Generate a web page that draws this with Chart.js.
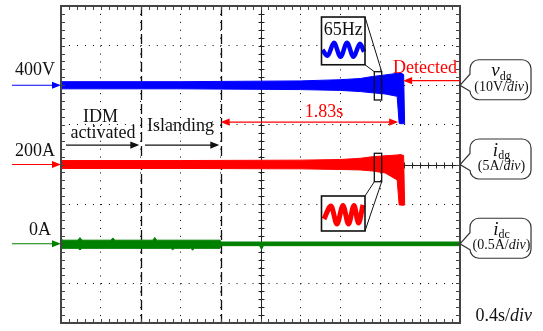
<!DOCTYPE html>
<html><head><meta charset="utf-8">
<script src="https://cdn.jsdelivr.net/npm/chart.js@4/dist/chart.umd.min.js"></script>
<style>html,body{margin:0;padding:0;background:#fff;}#wrap{width:543px;height:331px;}</style>
</head><body><div id="wrap"><canvas id="c" width="543" height="331"></canvas></div>
<script>
// ---------------- data ----------------
// time axis: 0.4 s/div, 10 divisions
const timeRange = [0, 4];
const timeStep = 0.4;
const eventTimes = [0.8, 1.6];          // IDM activated, islanding
const detectTime = 3.43;                 // detection (1.83 s after islanding)

// v_dg envelope (V), 10 V/div, 400 V marker
const vdgTime = [0, 1.2, 2.4, 2.8, 3.0, 3.12, 3.25, 3.37, 3.39, 3.40, 3.435, 3.445];
const vdgMax  = [400.9, 400.9, 401.1, 401.4, 401.7, 402.2, 402.6, 403.0, 403.1, 403.2, 402.7, 390.3];
const vdgMin  = [399.1, 399.1, 398.9, 398.7, 398.4, 398.1, 397.8, 397.2, 390.4, 390.3, 390.3, 390.3];

// i_dg envelope (A), 5 A/div, 200 A marker
const idgTime = [0, 1.2, 2.4, 2.8, 3.0, 3.12, 3.25, 3.37, 3.39, 3.40, 3.435, 3.445];
const idgMax  = [200.5, 200.5, 200.55, 200.63, 200.78, 200.98, 201.1, 201.2, 201.24, 201.26, 201.14, 194.9];
const idgMin  = [199.5, 199.5, 199.45, 199.37, 199.31, 199.18, 198.93, 198.05, 194.9, 194.88, 194.85, 194.9];

// i_dc envelope (A), 0.5 A/div, 0 A marker
const idcMaxTime = [0, 0.02, 0.17, 0.19, 0.21, 0.50, 0.52, 0.54, 0.92, 0.94, 0.96, 1.595, 1.605, 4.0];
const idcMax     = [0.06, 0.045, 0.045, 0.078, 0.045, 0.045, 0.074, 0.045, 0.045, 0.08, 0.045, 0.045, 0.022, 0.022];
const idcMinTime = [0, 0.17, 0.19, 0.21, 1.10, 1.12, 1.14, 1.30, 1.32, 1.34, 1.595, 1.605, 1.99, 2.01, 2.03, 4.0];
const idcMin     = [-0.058, -0.058, -0.078, -0.058, -0.058, -0.076, -0.058, -0.058, -0.08, -0.058, -0.058, -0.024, -0.024, -0.072, -0.024, -0.024];

// zoomed insets (normalised position across inset, normalised amplitude)
const vdgZoomPos = [0.023, 0.138, 0.287, 0.437, 0.586, 0.736, 0.885, 0.977];
const vdgZoom    = [0, -0.86, 1.0, -1.0, 1.0, -1.0, 0.86, -0.29];
const idgZoomPos = [0.057, 0.218, 0.356, 0.494, 0.621, 0.747, 0.851, 0.954];
const idgZoom    = [-0.5, 0.94, -1.06, 1.0, -1.06, 1.0, -0.94, 1.06];

// channel markers
const channelLabels  = ['400V', '200A', '0A'];
const channelOffsets = [400, 200, 0];
const channelAxes    = ['yV', 'yI', 'yDC'];
const channelColors  = ['#0000ff', '#ff0000', '#008000'];
const channelNames   = [['v', 'dg', '(10V/', 'div', ')'], ['i', 'dg', '(5A/', 'div', ')'], ['i', 'dc', '(0.5A/', 'div', ')']];

// ---------------- layout (in axis units) ----------------
const inset = {t0: 2.6115, t1: 3.0476};
const insetBlue = {top: 3.722, bottom: 2.517, centre: 2.894, amp: 0.1767};
const insetRed  = {top: -0.795, bottom: -1.678, centre: -1.262, amp: 0.227};
const zoomWin = {t0: 3.141, t1: 3.215};
const zoomBlue = {top: 2.342, bottom: 1.628};
const zoomRed  = {top: 0.283, bottom: -0.434};

const SERIF = '"Liberation Serif","Times New Roman",serif';
const pts = (xs, ys) => xs.map((x, i) => ({x, y: ys[i]}));

function band(data, yAxisID, color, fill) {
  return {data, yAxisID, xAxisID: 'x', borderColor: color, backgroundColor: color,
          borderWidth: 1, pointRadius: 0, tension: 0, fill};
}

const W = inset.t1 - inset.t0;
const xInMin = (timeRange[0] - inset.t0) / W, xInMax = (timeRange[1] - inset.t0) / W;

function line(ctx, x1, y1, x2, y2) { ctx.beginPath(); ctx.moveTo(x1, y1); ctx.lineTo(x2, y2); ctx.stroke(); }
function head(ctx, x, y, dir, len, half) {
  ctx.beginPath(); ctx.moveTo(x, y); ctx.lineTo(x - dir * len, y - half); ctx.lineTo(x - dir * len, y + half); ctx.closePath(); ctx.fill();
}
function hArrow(ctx, x1, x2, y, color, lw, both) {
  ctx.strokeStyle = color; ctx.fillStyle = color; ctx.lineWidth = lw;
  const dir = x2 > x1 ? 1 : -1, len = 9, half = 3.6;
  line(ctx, both ? x1 + dir * len * 0.8 : x1, y, x2 - dir * len * 0.8, y);
  head(ctx, x2, y, dir, len, half);
  if (both) head(ctx, x1, y, -dir, len, half);
}
function parts(ctx, items, cx, y) {
  let w = 0; for (const [t, f] of items) { ctx.font = f; w += ctx.measureText(t).width; }
  let x = cx - w / 2;
  ctx.textAlign = 'left';
  for (const [t, f, dy] of items) { ctx.font = f; ctx.fillText(t, x, y + (dy || 0)); x += ctx.measureText(t).width; }
}

const deco = {
  id: 'deco',
  beforeDatasetsDraw(chart) {
    const {ctx, chartArea: a, scales: s} = chart;
    const X = v => s.x.getPixelForValue(v), Y = v => s.y.getPixelForValue(v);
    ctx.save();
    ctx.fillStyle = '#fff';
    for (const b of [insetBlue, insetRed]) ctx.fillRect(X(inset.t0), Y(b.top), X(inset.t1) - X(inset.t0), Y(b.bottom) - Y(b.top));
    ctx.strokeStyle = '#222'; ctx.lineWidth = 1;
    const cx = Math.round(X((timeRange[0] + timeRange[1]) / 2)) + 0.5, cy = Math.round(Y(0)) + 0.5;
    line(ctx, a.left, cy, a.right, cy); line(ctx, cx, a.top, cx, a.bottom);
    for (let k = 0; k <= 50; k++) { const x = Math.round(X(k * timeStep / 5)) + 0.5; line(ctx, x, cy - 3, x, cy + 3); }
    for (let k = 0; k <= 40; k++) { const y = Math.round(Y(-4 + k * 0.2)) + 0.5; line(ctx, cx - 3, y, cx + 3, y); }
    ctx.setLineDash([10, 4]); ctx.lineWidth = 1.3; ctx.strokeStyle = '#111';
    for (const t of eventTimes) { const x = Math.round(X(t)) + 0.5; line(ctx, x, a.top, x, a.bottom); }
    ctx.setLineDash([]);
    ctx.restore();
  },
  afterDatasetsDraw(chart) {
    const {ctx, chartArea: a, scales: s} = chart;
    const X = v => s.x.getPixelForValue(v), Y = v => s.y.getPixelForValue(v);
    ctx.save();
    ctx.strokeStyle = '#444'; ctx.lineWidth = 2;
    ctx.strokeRect(a.left, a.top, a.right - a.left, a.bottom - a.top);
    ctx.lineWidth = 1;
    for (let k = 1; k < 50; k++) {
      const x = Math.round(X(k * timeStep / 5)) + 0.5;
      line(ctx, x, a.top, x, a.top + 4); line(ctx, x, a.bottom - 4, x, a.bottom);
    }
    for (let k = 1; k < 40; k++) {
      const y = Math.round(Y(-4 + k * 0.2)) + 0.5;
      line(ctx, a.left, y, a.left + 4, y); line(ctx, a.right - 4, y, a.right, y);
    }
    ctx.strokeStyle = '#111';
    const ix0 = X(inset.t0), ix1 = X(inset.t1), zx0 = X(zoomWin.t0), zx1 = X(zoomWin.t1);
    ctx.lineWidth = 1.6;
    ctx.strokeRect(ix0, Y(insetBlue.top), ix1 - ix0, Y(insetBlue.bottom) - Y(insetBlue.top));
    ctx.strokeRect(ix0, Y(insetRed.top), ix1 - ix0, Y(insetRed.bottom) - Y(insetRed.top));
    ctx.lineWidth = 1.3;
    ctx.strokeRect(zx0, Y(zoomBlue.top), zx1 - zx0, Y(zoomBlue.bottom) - Y(zoomBlue.top));
    ctx.strokeRect(zx0, Y(zoomRed.top), zx1 - zx0, Y(zoomRed.bottom) - Y(zoomRed.top));
    ctx.lineWidth = 1;
    line(ctx, ix1, Y(insetBlue.top), zx1, Y(zoomBlue.top));
    line(ctx, ix1, Y(insetBlue.bottom), zx0, Y(zoomBlue.top));
    line(ctx, zx0, Y(zoomRed.bottom), ix1, Y(insetRed.top));
    line(ctx, zx1, Y(zoomRed.bottom), ix1, Y(insetRed.bottom));
    ctx.fillStyle = '#111'; ctx.textBaseline = 'alphabetic';
    ctx.font = '18px ' + SERIF; ctx.textAlign = 'center';
    ctx.fillText('65Hz', X((inset.t0 + inset.t1) / 2), Y(3.275));

    ctx.fillStyle = '#111';
    ctx.fillText('IDM', X(0.396), Y(1.08));
    ctx.fillText('activated', X(0.421), Y(0.67));
    ctx.fillText('Islanding', X(1.197), Y(0.845));
    hArrow(ctx, X(0.05), X(eventTimes[0] - 0.015), Y(0.49), '#111', 1.4, false);
    hArrow(ctx, X(eventTimes[0] + 0.042), X(eventTimes[1] - 0.013), Y(0.49), '#111', 1.4, false);

    ctx.fillStyle = '#ff0000'; ctx.textAlign = 'center'; ctx.font = '18px ' + SERIF;
    ctx.fillText((detectTime - eventTimes[1]).toFixed(2) + 's', X(2.637), Y(1.21));
    hArrow(ctx, X(eventTimes[1]), X(3.38), Y(1.07), '#ff0000', 1.2, true);
    ctx.fillStyle = '#ff0000'; ctx.textAlign = 'right'; ctx.font = '18px ' + SERIF;
    ctx.fillText('Detected', X(3.97), Y(2.31));
    hArrow(ctx, X(timeRange[1]), X(detectTime), Y(2.115), '#ff0000', 1.2, false);

    channelLabels.forEach((lab, i) => {
      const yp = s[channelAxes[i]].getPixelForValue(channelOffsets[i]);
      const col = channelColors[i];
      hArrow(ctx, X(-0.491), a.left, yp, col, 1.2, false);
      ctx.fillStyle = '#111'; ctx.textAlign = 'right'; ctx.font = '18px ' + SERIF;
      ctx.fillText(lab, X(i === 2 ? -0.10 : -0.06), yp - (i === 0 ? 10 : 8.3));
      const l = X(4.10), r = X(4.712), t = yp - 25.5, b = yp + 14.5, rad = 9, tip = a.right;
      ctx.beginPath();
      ctx.moveTo(l + rad, t); ctx.lineTo(r - rad, t); ctx.arcTo(r, t, r, t + rad, rad);
      ctx.lineTo(r, b - rad); ctx.arcTo(r, b, r - rad, b, rad);
      ctx.lineTo(l + rad, b); ctx.arcTo(l, b, l, b - rad, rad);
      ctx.lineTo(l, yp + 6); ctx.lineTo(tip, yp); ctx.lineTo(l, yp - 11);
      ctx.lineTo(l, t + rad); ctx.arcTo(l, t, l + rad, t, rad); ctx.closePath();
      ctx.fillStyle = '#fff'; ctx.fill();
      ctx.strokeStyle = '#333'; ctx.lineWidth = 1.2; ctx.stroke();
      ctx.fillStyle = '#111';
      const cxB = (l + r) / 2 + 1;
      const n = channelNames[i];
      parts(ctx, [[n[0], 'italic 19px ' + SERIF, 0], [n[1], '12px ' + SERIF, 3.5]], cxB, yp - 9);
      parts(ctx, [[n[2], '14px ' + SERIF], [n[3], 'italic 14px ' + SERIF], [n[4], '14px ' + SERIF]], cxB, yp + 5.5);
    });
    ctx.fillStyle = '#111'; ctx.textAlign = 'left';
    ctx.font = '18px ' + SERIF; const w1 = ctx.measureText('0.4s/').width;
    ctx.font = 'italic 18px ' + SERIF; const w2 = ctx.measureText('div').width;
    const xr = X(4.722), yb = Y(-3.937);
    ctx.font = '18px ' + SERIF; ctx.fillText(timeStep + 's/', xr - w1 - w2, yb);
    ctx.font = 'italic 18px ' + SERIF; ctx.fillText('div', xr - w2, yb);
    ctx.restore();
  }
};

new Chart(document.getElementById('c'), {
  type: 'line',
  data: {
    datasets: [
      band(pts(vdgTime, vdgMax), 'yV', '#0000ff', '+1'),
      band(pts(vdgTime, vdgMin), 'yV', '#0000ff', false),
      band(pts(idgTime, idgMax), 'yI', '#ff0000', '+1'),
      band(pts(idgTime, idgMin), 'yI', '#ff0000', false),
      band(pts(idcMaxTime, idcMax), 'yDC', '#008000', '+1'),
      band(pts(idcMinTime, idcMin), 'yDC', '#008000', false),
      {data: pts(vdgZoomPos, vdgZoom), xAxisID: 'xIn', yAxisID: 'yInB', borderColor: '#0000ff', borderWidth: 4.5,
       pointRadius: 0, cubicInterpolationMode: 'monotone', fill: false},
      {data: pts(idgZoomPos, idgZoom), xAxisID: 'xIn', yAxisID: 'yInR', borderColor: '#ff0000', borderWidth: 5,
       pointRadius: 0, cubicInterpolationMode: 'monotone', fill: false}
    ]
  },
  options: {
    responsive: false, animation: false, events: [],
    layout: {padding: {left: 61, right: 83, top: 6, bottom: 8}},
    plugins: {legend: {display: false}, tooltip: {enabled: false}},
    scales: {
      x: {type: 'linear', min: timeRange[0], max: timeRange[1],
          ticks: {display: false, stepSize: timeStep},
          grid: {color: '#000', lineWidth: 1, drawTicks: false},
          border: {display: false, dash: [1, 6.925]}},
      y: {type: 'linear', min: -4, max: 4,
          ticks: {display: false, stepSize: 1},
          grid: {color: '#000', lineWidth: 1, drawTicks: false},
          border: {display: false, dash: [1, 6.98]}},
      yV:  {type: 'linear', display: false, min: 340, max: 420},
      yI:  {type: 'linear', display: false, min: 180, max: 220},
      yDC: {type: 'linear', display: false, min: -1, max: 3},
      xIn: {type: 'linear', display: false, min: xInMin, max: xInMax},
      yInB: {type: 'linear', display: false, min: (-4 - insetBlue.centre) / insetBlue.amp, max: (4 - insetBlue.centre) / insetBlue.amp},
      yInR: {type: 'linear', display: false, min: (-4 - insetRed.centre) / insetRed.amp, max: (4 - insetRed.centre) / insetRed.amp}
    }
  },
  plugins: [deco]
});
</script>
</body></html>
